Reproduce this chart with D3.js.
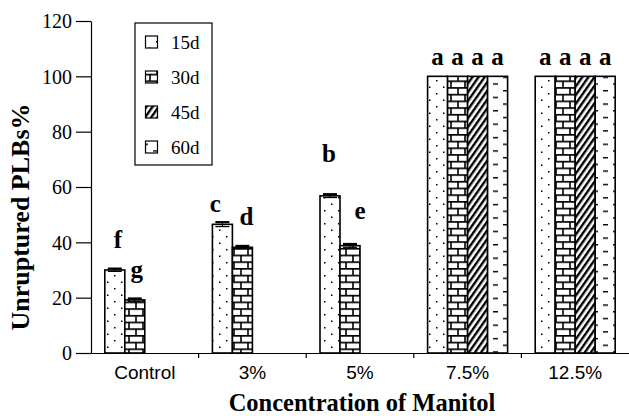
<!DOCTYPE html>
<html>
<head>
<meta charset="utf-8">
<script src="https://cdn.jsdelivr.net/npm/d3@7"></script>
<style>
  html, body { margin: 0; padding: 0; background: #fff; }
  svg { display: block; }
</style>
</head>
<body>
<div id="chart"></div>
<script>
// ---- data ----
const categories = ["Control", "3%", "5%", "7.5%", "12.5%"];
const seriesNames = ["15d", "30d", "45d", "60d"];
const values15d = [30, 46.5, 56.8, 100, 100];
const values30d = [19.2, 38.2, 38.8, 100, 100];
const values45d = [null, null, null, 100, 100];
const values60d = [null, null, null, 100, 100];
const errors15d = [0.5, 0.8, 0.6, 0, 0];
const errors30d = [0.5, 0.5, 0.6, 0, 0];
const errors45d = [0, 0, 0, 0, 0];
const errors60d = [0, 0, 0, 0, 0];
const letters15d = ["f", "c", "b", "a", "a"];
const letters30d = ["g", "d", "e", "a", "a"];
const letters45d = [null, null, null, "a", "a"];
const letters60d = [null, null, null, "a", "a"];
const yTicks = [0, 20, 40, 60, 80, 100, 120];
const xTitle = "Concentration of Manitol";
const yTitle = "Unruptured PLBs%";

const seriesValues = [values15d, values30d, values45d, values60d];
const seriesErrors = [errors15d, errors30d, errors45d, errors60d];
const seriesLetters = [letters15d, letters30d, letters45d, letters60d];

// ---- layout ----
const W = 629, H = 416;
const mLeft = 91, mRight = 629, mTop = 21, mBottom = 353;
const serif = "'Liberation Serif', 'Times New Roman', serif";
const sans = "'Liberation Sans', Arial, sans-serif";

const svg = d3.select("#chart").append("svg").attr("width", W).attr("height", H);
const defs = svg.append("defs");

// patterns
const pDots = defs.append("pattern").attr("id", "p15").attr("patternUnits", "userSpaceOnUse")
  .attr("width", 14).attr("height", 13).attr("x", 105).attr("y", 0);
pDots.append("rect").attr("width", 14).attr("height", 13).attr("fill", "#fff");
pDots.append("rect").attr("x", 9).attr("y", 2).attr("width", 1.5).attr("height", 1.5).attr("fill", "#000");
pDots.append("rect").attr("x", 2).attr("y", 8.5).attr("width", 1.5).attr("height", 1.5).attr("fill", "#000");

const pBrick = defs.append("pattern").attr("id", "p30").attr("patternUnits", "userSpaceOnUse")
  .attr("width", 14).attr("height", 13.4).attr("x", 0).attr("y", 0);
pBrick.append("rect").attr("width", 14).attr("height", 13.4).attr("fill", "#fff");
pBrick.append("path").attr("d", "M0,0.8H14 M0,7.5H14 M3,0.8V7.5 M10,7.5V14.2")
  .attr("stroke", "#000").attr("stroke-width", 1.6).attr("fill", "none");

const pHatch = defs.append("pattern").attr("id", "p45").attr("patternUnits", "userSpaceOnUse")
  .attr("width", 5).attr("height", 5).attr("patternTransform", "rotate(35)");
pHatch.append("rect").attr("width", 5).attr("height", 5).attr("fill", "#fff");
pHatch.append("rect").attr("x", 0).attr("y", 0).attr("width", 2.4).attr("height", 5).attr("fill", "#000");

const pDash = defs.append("pattern").attr("id", "p60").attr("patternUnits", "userSpaceOnUse")
  .attr("width", 20).attr("height", 13.4).attr("x", 0).attr("y", 0);
pDash.append("rect").attr("width", 20).attr("height", 13.4).attr("fill", "#fff");
pDash.append("path").attr("d", "M13,3.5H18 M3,10.2H8")
  .attr("stroke", "#000").attr("stroke-width", 1.4).attr("fill", "none");
const fills = ["url(#p15)", "url(#p30)", "url(#p45)", "url(#p60)"];

// scales
const x0 = d3.scaleBand().domain(categories).range([mLeft, mRight]).paddingInner(0).paddingOuter(0);
const x1 = d3.scaleBand().domain(seriesNames).range([0, x0.bandwidth()]).paddingInner(0).paddingOuter(0.69);
const y = d3.scaleLinear().domain([0, 120]).range([mBottom, mTop]);

// bars
const barData = [];
seriesNames.forEach((s, si) => {
  categories.forEach((c, ci) => {
    const v = seriesValues[si][ci];
    if (v != null) barData.push({ s, si, c, ci, v, e: seriesErrors[si][ci], l: seriesLetters[si][ci] });
  });
});

svg.append("g").selectAll("rect").data(barData).join("rect")
  .attr("x", d => x0(d.c) + x1(d.s))
  .attr("y", d => y(d.v))
  .attr("width", x1.bandwidth())
  .attr("height", d => y(0) - y(d.v))
  .attr("fill", d => fills[d.si])
  .attr("stroke", "#000").attr("stroke-width", 1.6);

// error bars
const eg = svg.append("g").attr("stroke", "#000");
barData.filter(d => d.e > 0).forEach(d => {
  const cx = x0(d.c) + x1(d.s) + x1.bandwidth() / 2;
  eg.append("line").attr("x1", cx).attr("x2", cx).attr("y1", y(d.v - d.e)).attr("y2", y(d.v + d.e)).attr("stroke-width", 1.2);
  eg.append("line").attr("x1", cx - 7).attr("x2", cx + 7).attr("y1", y(d.v + d.e)).attr("y2", y(d.v + d.e)).attr("stroke-width", 2.2);
  eg.append("line").attr("x1", cx - 7).attr("x2", cx + 7).attr("y1", y(d.v - d.e)).attr("y2", y(d.v - d.e)).attr("stroke-width", 1.2);
});

// significance letters (offsets relative to bar centre / top)
const letterOffsets = {
  "15d": [[3, -22], [-7, -12], [-1, -34], [0, -11], [0, -11]],
  "30d": [[2, -22], [4, -22], [10, -27], [0, -11], [0, -11]],
  "45d": [[0, -11], [0, -11], [0, -11], [0, -11], [0, -11]],
  "60d": [[0, -11], [0, -11], [0, -11], [0, -11], [0, -11]]
};
svg.append("g").selectAll("text").data(barData.filter(d => d.l)).join("text")
  .attr("x", d => x0(d.c) + x1(d.s) + x1.bandwidth() / 2 + letterOffsets[d.s][d.ci][0])
  .attr("y", d => y(d.v) + letterOffsets[d.s][d.ci][1])
  .attr("text-anchor", "middle")
  .attr("font-family", serif).attr("font-weight", "bold").attr("font-size", 25)
  .text(d => d.l);

// y axis
const yAxis = d3.axisLeft(y).tickValues(yTicks).tickSize(15).tickPadding(4).tickSizeOuter(0);
const gy = svg.append("g").attr("transform", `translate(${mLeft},0)`).call(yAxis);
gy.attr("font-family", serif).attr("font-size", 20);
gy.select(".domain").attr("stroke-width", 1.2);
gy.selectAll(".tick line").attr("stroke-width", 1.2);
gy.selectAll(".tick text").attr("fill", "#000").attr("dy", "0.34em");

// x axis
const xAxis = d3.axisBottom(x0).tickSize(0).tickPadding(13).tickSizeOuter(0);
const gx = svg.append("g").attr("transform", `translate(0,${mBottom})`).call(xAxis);
gx.attr("font-family", sans).attr("font-size", 19);
gx.select(".domain").attr("stroke-width", 1.2);
gx.selectAll(".tick text").attr("fill", "#000");
// boundary ticks
gx.append("g").selectAll("line").data(categories.slice(1)).join("line")
  .attr("x1", d => x0(d)).attr("x2", d => x0(d)).attr("y1", 0).attr("y2", 5)
  .attr("stroke", "#000").attr("stroke-width", 1.2);

// axis titles
svg.append("text").attr("x", (mLeft + mRight) / 2 + 2).attr("y", 411)
  .attr("text-anchor", "middle").attr("font-family", serif).attr("font-weight", "bold").attr("font-size", 24.5)
  .text(xTitle);
svg.append("text").attr("transform", `translate(29,217) rotate(-90)`)
  .attr("text-anchor", "middle").attr("font-family", serif).attr("font-weight", "bold").attr("font-size", 26)
  .text(yTitle);

// legend
const lg = svg.append("g");
lg.append("rect").attr("x", 135).attr("y", 23).attr("width", 77).attr("height", 142)
  .attr("fill", "#fff").attr("stroke", "#000").attr("stroke-width", 1.2);
seriesNames.forEach((s, i) => {
  const cy = 42 + i * 35;
  lg.append("rect").attr("x", 145.5).attr("y", cy - 6).attr("width", 12).attr("height", 12)
    .attr("fill", fills[i]).attr("stroke", "#000").attr("stroke-width", 1.2);
  lg.append("text").attr("x", 171).attr("y", cy + 6.5)
    .attr("font-family", serif).attr("font-size", 19).text(s);
});
</script>
</body>
</html>
